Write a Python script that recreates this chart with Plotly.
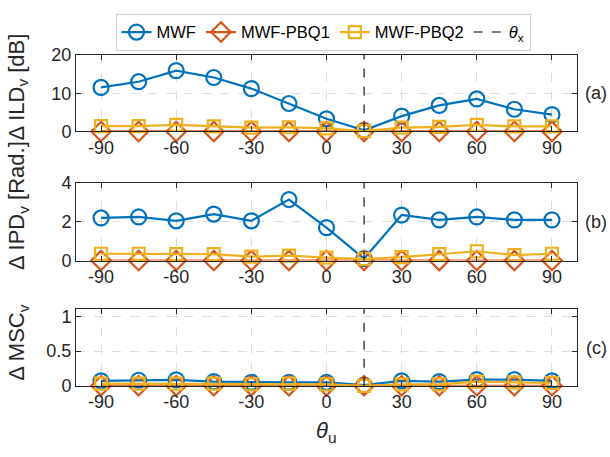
import plotly.graph_objects as go

theta_u = [-90, -75, -60, -45, -30, -15, 0, 15, 30, 45, 60, 75, 90]
theta_x = 15
x_tickvals = [-90, -60, -30, 0, 30, 60, 90]
x_ticktext = ["-90", "-60", "-30", "0", "30", "60", "90"]

ild_mwf = [11.5, 13.0, 15.9, 14.1, 11.2, 7.3, 3.3, 0.3, 4.0, 6.8, 8.5, 5.8, 4.4]
ild_pbq1 = [0.0] * 13
ild_pbq2 = [1.4, 1.4, 1.7, 1.3, 1.0, 1.1, 0.8, 0.1, 1.0, 1.2, 1.7, 1.3, 1.3]

ipd_mwf = [2.2, 2.25, 2.05, 2.4, 2.05, 3.15, 1.7, 0.1, 2.35, 2.1, 2.25, 2.1, 2.1]
ipd_pbq1 = [0.0] * 13
ipd_pbq2 = [0.35, 0.35, 0.33, 0.33, 0.2, 0.25, 0.15, 0.08, 0.18, 0.33, 0.48, 0.28, 0.35]

msc_mwf = [0.07, 0.08, 0.085, 0.06, 0.05, 0.05, 0.05, 0.01, 0.07, 0.06, 0.09, 0.09, 0.07]
msc_pbq1 = [0.0] * 13
msc_pbq2 = [0.03, 0.03, 0.03, 0.03, 0.02, 0.03, 0.02, 0.0, 0.02, 0.02, 0.06, 0.05, 0.04]

names = ["MWF", "MWF-PBQ1", "MWF-PBQ2"]
colors = ["#0072BD", "#D95319", "#EDB120"]
symbols = ["circle-open", "diamond-open", "square-open"]
sizes = [15, 15, 12]

panels = [
    (ild_mwf, ild_pbq1, ild_pbq2, [0, 20], [0, 10, 20], "Δ ILD<sub>v</sub> [dB]", "(a)"),
    (ipd_mwf, ipd_pbq1, ipd_pbq2, [0, 4], [0, 2, 4], "Δ IPD<sub>v</sub> [Rad.]", "(b)"),
    (msc_mwf, msc_pbq1, msc_pbq2, [0, 1.1], [0, 0.5, 1], "Δ MSC<sub>v</sub>", "(c)"),
]

W, H = 610, 457
px_x = [76, 577]
px_y = [(47, 127), (181, 262), (313, 393)]
title_y = [81, 205, 348]

fig = go.Figure()
axcol = "#262626"
font = "Liberation Sans, Arial, sans-serif"

for i, (a, b, c, yr, yt, ttl, lab) in enumerate(panels):
    suffix = "" if i == 0 else str(i + 1)
    for k, series in enumerate([a, b, c]):
        fig.add_trace(go.Scatter(
            x=theta_u, y=series, mode="lines+markers", name=names[k],
            line=dict(color=colors[k], width=2.2),
            marker=dict(symbol=symbols[k], size=sizes[k], color=colors[k],
                        line=dict(width=2.2, color=colors[k])),
            cliponaxis=False, showlegend=(i == 0),
            xaxis="x" + suffix, yaxis="y" + suffix,
        ))
    top, bot = px_y[i]
    common = dict(showline=True, linecolor=axcol, linewidth=1, mirror="ticks",
                  ticks="inside", ticklen=5, tickcolor=axcol,
                  showgrid=True, gridcolor="#dcdcdc", griddash="dash", gridwidth=1,
                  zeroline=False, tickfont=dict(size=18, color=axcol, family=font))
    fig.layout["xaxis" + suffix] = dict(
        domain=[px_x[0] / W, px_x[1] / W], range=[-100, 100],
        tickvals=x_tickvals, ticktext=x_ticktext, anchor="y" + suffix, **common)
    fig.layout["yaxis" + suffix] = dict(
        domain=[1 - bot / H, 1 - top / H], range=yr, tickvals=yt,
        anchor="x" + suffix, **common)
    fig.add_shape(type="line", xref="x" + suffix, yref="y" + suffix + " domain",
                  x0=theta_x, x1=theta_x, y0=0, y1=1,
                  line=dict(color="black", width=1.1, dash="dash"), layer="above")
    fig.add_annotation(x=596 / W, y=1 - (top + bot) / 2 / H, xref="paper", yref="paper",
                       xanchor="center", yanchor="middle",
                       text=lab, showarrow=False, font=dict(size=18, color=axcol, family=font))
    fig.add_annotation(x=18 / W, y=1 - title_y[i] / H, xref="paper", yref="paper",
                       xanchor="center", yanchor="middle",
                       text=ttl, textangle=-90, showarrow=False,
                       font=dict(size=22, color=axcol, family=font))

fig.add_trace(go.Scatter(x=[None], y=[None], mode="lines", name="<i>θ</i><sub>x</sub>",
                         line=dict(color="black", width=1.1, dash="dash")))

fig.add_annotation(x=(px_x[0] + px_x[1]) / 2 / W, y=1 - 441 / H, xref="paper", yref="paper",
                   xanchor="center", yanchor="middle",
                   text="<i>θ</i><sub>u</sub>", showarrow=False,
                   font=dict(size=22, color=axcol, family=font))

fig.update_layout(
    width=W, height=H, margin=dict(l=0, r=0, t=0, b=0),
    paper_bgcolor="white", plot_bgcolor="white",
    legend=dict(orientation="h", x=323 / W, xanchor="center", y=1 - 4 / H, yanchor="top",
                bordercolor="#d0d0d0", borderwidth=1, bgcolor="white",
                font=dict(size=16.5, color="black", family=font),
                itemwidth=30, tracegroupgap=0),
)

fig.write_html("out.html", config={"displayModeBar": False},
               post_script="document.body.style.margin='0';document.body.style.overflow='hidden';")
